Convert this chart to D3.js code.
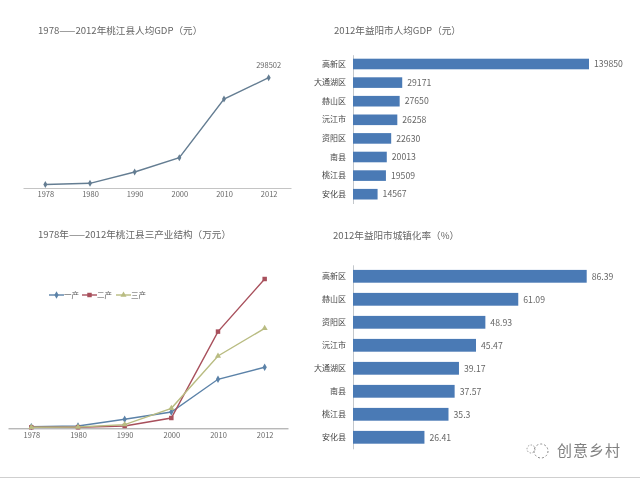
<!DOCTYPE html>
<html><head><meta charset="utf-8">
<script src="https://cdn.jsdelivr.net/npm/d3@7"></script>
<style>
html,body{margin:0;padding:0;background:#fff}
svg{display:block;filter:blur(0.35px)}
text{font-family:"Noto Sans CJK SC","Liberation Sans",sans-serif;fill:#5a5a5a}
</style></head><body>
<svg id="c" width="640" height="478"></svg>
<script>
const gdpYears=["1978","1980","1990","2000","2010","2012"];
const gdpValues=[9500,12700,43300,82000,240800,298502];
const gdpLabels=[null,null,null,null,null,"298502"];
const structYears=["1978","1980","1990","2000","2010","2012"];
const primary=[1700,2300,9000,16300,49000,61000];
const secondary=[1000,1000,2300,10300,96700,149300];
const tertiary=[1000,1300,3700,20000,72300,100000];
const seriesNames=["一产","二产","三产"];
const gdpRegions=["高新区","大通湖区","赫山区","沅江市","资阳区","南县","桃江县","安化县"];
const gdpRegionValues=[139850,29171,27650,26258,22630,20013,19509,14567];
const urbanRegions=["高新区","赫山区","资阳区","沅江市","大通湖区","南县","桃江县","安化县"];
const urbanValues=[86.39,61.09,48.93,45.47,39.17,37.57,35.3,26.41];
const titles=["1978——2012年桃江县人均GDP（元）","2012年益阳市人均GDP（元）","1978年——2012年桃江县三产业结构（万元）","2012年益阳市城镇化率（%）"];
const watermark="创意乡村";

const svg=d3.select("#c");
function title(t,x,y){svg.append("text").attr("x",x).attr("y",y).attr("font-size",9.6).style("fill","#666").text(t);}
title(titles[0],38,34.4);title(titles[1],334,34.4);title(titles[2],38,238);title(titles[3],333,238.6);

function lineChart(cats,series,x0,x1,yBase,pxMax,vMax,opts){
  const x=d3.scalePoint().domain(cats).range([x0,x1]).padding(0.5);
  const y=d3.scaleLinear().domain([0,vMax]).range([yBase,yBase-pxMax]);
  const ax=svg.append("g").attr("transform",`translate(0,${yBase})`)
    .call(d3.axisBottom(x).tickSize(0).tickPadding(4));
  ax.select(".domain").attr("stroke",opts.axis).attr("stroke-width",1);
  ax.selectAll("text").attr("font-size",7.5).style("fill","#666");
  series.forEach(s=>{
    const g=svg.append("g");
    g.append("path").datum(s.values).attr("fill","none").attr("stroke",s.color).attr("stroke-width",1.4)
      .attr("d",d3.line().x((d,i)=>x(cats[i])).y(d=>y(d)));
    const sym=d3.symbol().type(s.symbol).size(s.size);
    g.selectAll("path.m").data(s.values).join("path").attr("class","m").attr("fill",s.color)
      .attr("transform",(d,i)=>`translate(${x(cats[i])},${y(d)})`).attr("d",sym);
  });
  return {x,y};
}
const c1=lineChart(gdpYears,[{values:gdpValues,color:"#647d92",symbol:d3.symbolDiamond,size:14}],23,291,188,110.3,298502,{axis:"#c4c4c4"});
svg.append("g").selectAll("text").data(gdpLabels).join("text")
  .attr("x",(d,i)=>c1.x(gdpYears[i])).attr("y",(d,i)=>c1.y(gdpValues[i])-10)
  .attr("text-anchor","middle").attr("font-size",7.5).style("fill","#666").text(d=>d);

const symbols=[d3.symbolDiamond,d3.symbolSquare,d3.symbolTriangle];
const sizes=[16,20,16];
const lineColors=["#5b82a8","#a8505c","#b9bc82"];
const c3=lineChart(structYears,[primary,secondary,tertiary].map((v,i)=>({values:v,color:lineColors[i],symbol:symbols[i],size:sizes[i]})),8,288,428.3,149.3,149300,{axis:"#9a9a9a"});
const legX=[49,82,116];
seriesNames.forEach((n,i)=>{
  const g=svg.append("g").attr("transform",`translate(${legX[i]},295)`);
  g.append("line").attr("x1",0).attr("x2",15).attr("stroke",lineColors[i]).attr("stroke-width",1.4);
  g.append("path").attr("transform","translate(7.5,0)").attr("fill",lineColors[i]).attr("d",d3.symbol().type(symbols[i]).size(sizes[i]));
  g.append("text").attr("x",15).attr("y",2.5).attr("font-size",7.5).style("fill","#555").text(n);
});

function barChart(cats,vals,yTop,yBot,barH,pxMax,vMax){
  const x=d3.scaleLinear().domain([0,vMax]).range([353,353+pxMax]);
  const y=d3.scaleBand().domain(cats).range([yTop,yBot]);
  const ax=svg.append("g").attr("transform","translate(353,0)").call(d3.axisLeft(y).tickSize(0).tickPadding(7));
  ax.select(".domain").attr("stroke","#c4c8cc").attr("stroke-width",1);
  ax.selectAll("text").attr("font-size",8).style("fill","#444");
  const g=svg.append("g");
  g.selectAll("rect").data(vals).join("rect").attr("x",353).attr("y",(d,i)=>y(cats[i])+y.bandwidth()/2-barH/2)
    .attr("width",d=>x(d)-353).attr("height",barH).attr("fill","#4a7ab5");
  g.selectAll("text").data(vals).join("text").attr("x",d=>x(d)+5).attr("y",(d,i)=>y(cats[i])+y.bandwidth()/2+3.2)
    .attr("font-size",8.7).style("fill","#666").text(d=>d);
}
barChart(gdpRegions,gdpRegionValues,54.7,203.5,10.6,236,139850);
barChart(urbanRegions,urbanValues,264.8,448.8,12.8,233.7,86.39);

// watermark
svg.append("text").attr("x",557).attr("y",456).attr("font-size",15).style("fill","#808080").style("letter-spacing","1px").text(watermark);
svg.append("circle").attr("cx",541).attr("cy",451).attr("r",7).attr("fill","none").attr("stroke","#888").attr("stroke-dasharray","2 2");
svg.append("circle").attr("cx",531).attr("cy",449).attr("r",4).attr("fill","none").attr("stroke","#999").attr("stroke-dasharray","1.5 1.5");
svg.append("line").attr("x1",0).attr("x2",640).attr("y1",477.5).attr("y2",477.5).attr("stroke","#cfcfcf");
</script></body></html>
